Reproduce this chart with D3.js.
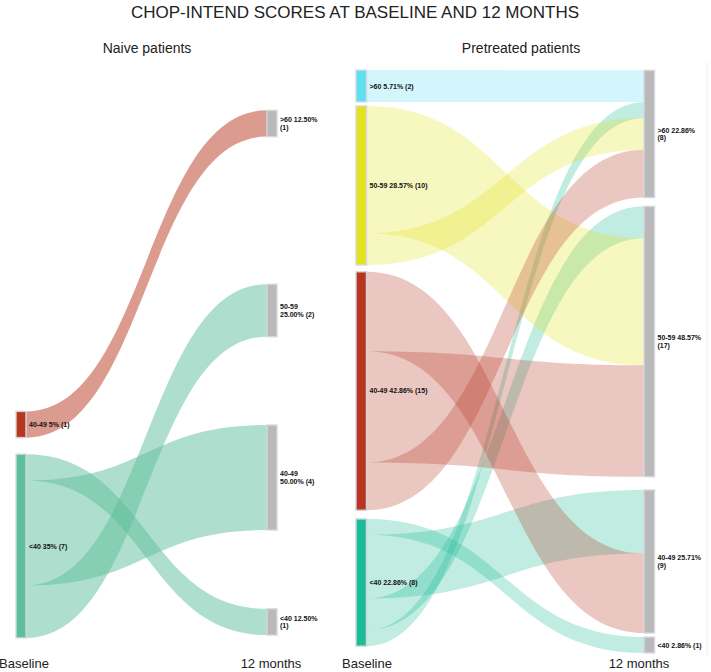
<!DOCTYPE html>
<html><head><meta charset="utf-8">
<script src="https://cdn.jsdelivr.net/npm/d3@7"></script>
<style>
html,body{margin:0;padding:0;background:#fff;}
svg{display:block;font-family:"Liberation Sans",Arial,sans-serif;}
</style></head>
<body>
<svg id="chart" width="711" height="672"></svg>
<script>
// ---------------- DATA ----------------
const title = "CHOP-INTEND SCORES AT BASELINE AND 12 MONTHS";
const columnNames = ["Baseline", "12 months"];

// Naive patients
const naiveBaseline = ["40-49", "<40"];
const naiveBaselineCounts = [1, 7];
const naiveBaselineLabels = [["40-49 5% (1)"], ["<40 35% (7)"]];
const naive12m = [">60", "50-59", "40-49", "<40"];
const naive12mCounts = [1, 2, 4, 1];
const naive12mLabels = [[">60 12.50%", "(1)"], ["50-59", "25.00% (2)"], ["40-49", "50.00% (4)"], ["<40 12.50%", "(1)"]];
const naiveLinkSource = ["40-49", "<40", "<40", "<40"];
const naiveLinkTarget = [">60", "<40", "40-49", "50-59"];
const naiveLinkValue = [1, 1, 4, 2];

// Pretreated patients
const preBaseline = [">60", "50-59", "40-49", "<40"];
const preBaselineCounts = [2, 10, 15, 8];
const preBaselineLabels = [[">60 5.71% (2)"], ["50-59 28.57% (10)"], ["40-49 42.86% (15)"], ["<40 22.86% (8)"]];
const pre12m = [">60", "50-59", "40-49", "<40"];
const pre12mCounts = [8, 17, 9, 1];
const pre12mLabels = [[">60 22.86%", "(8)"], ["50-59 48.57%", "(17)"], ["40-49 25.71%", "(9)"], ["<40 2.86% (1)"]];
const preLinkSource = [">60", "<40", "<40", "<40", "<40", "50-59", "50-59", "40-49", "40-49", "40-49"];
const preLinkTarget = [">60", "<40", "40-49", "50-59", ">60", "50-59", ">60", "40-49", "50-59", ">60"];
const preLinkValue = [2, 1, 4, 2, 1, 8, 2, 5, 7, 3];

// ---------------- LAYOUT / STYLE (not data) ----------------
const nodeColors = {">60": "#5ee0f0", "50-59": "#e2e21e", "40-49": "#b8361f", "<40": "#1cbc98"};
const naiveNodeColors = {"40-49": "#b8381f", "<40": "#5dbe9b"};
const targetColor = "#b9b9b9";

const panels = [
  {
    name: "Naive patients", titleX: 147,
    src: naiveBaseline, srcCounts: naiveBaselineCounts, srcLabels: naiveBaselineLabels,
    tgt: naive12m, tgtCounts: naive12mCounts, tgtLabels: naive12mLabels,
    ls: naiveLinkSource, lt: naiveLinkTarget, lv: naiveLinkValue,
    colors: naiveNodeColors, linkOpacity: 0.5,
    srcX: 16, tgtX: 267, nodeW: 10,
    pxPerUnit: 26.25,
    // node centres as fraction of the panel's vertical domain
    srcCenter: [0.6074, 0.8162], tgtCenter: [0.0902, 0.4115, 0.6985, 0.9467],
    colLabelX: [24, 271]
  },
  {
    name: "Pretreated patients", titleX: 521,
    src: preBaseline, srcCounts: preBaselineCounts, srcLabels: preBaselineLabels,
    tgt: pre12m, tgtCounts: pre12mCounts, tgtLabels: pre12mLabels,
    ls: preLinkSource, lt: preLinkTarget, lv: preLinkValue,
    colors: nodeColors, linkOpacity: 0.28,
    srcX: 356, tgtX: 644, nodeW: 10.5,
    pxPerUnit: 15.9,
    srcCenter: [0.0258, 0.1967, 0.5498, 0.8789], tgtCenter: [0.1082, 0.4648, 0.8428, 0.9863],
    colLabelX: [367, 639]
  }
];

const svg = d3.select("#chart");

svg.append("text").attr("x", 355).attr("y", 18).attr("text-anchor", "middle")
  .attr("font-size", 17).attr("fill", "#222").text(title);

const yPanel = d3.scaleLinear().domain([0, 1]).range([71, 653]);

panels.forEach(p => {
  const g = svg.append("g");
  const h = d3.scaleLinear().domain([0, 1]).range([0, p.pxPerUnit]);

  g.append("text").attr("x", p.titleX).attr("y", 53).attr("text-anchor", "middle")
    .attr("font-size", 14).attr("fill", "#222").text(p.name);

  const srcNodes = p.src.map((k, i) => {
    const hh = h(p.srcCounts[i]);
    const c = yPanel(p.srcCenter[i]);
    return {key: k, y0: c - hh / 2, y1: c + hh / 2, x0: p.srcX, x1: p.srcX + p.nodeW, off: 0, label: p.srcLabels[i], color: p.colors[k]};
  });
  const tgtNodes = p.tgt.map((k, i) => {
    const hh = h(p.tgtCounts[i]);
    const c = yPanel(p.tgtCenter[i]);
    return {key: k, y0: c - hh / 2, y1: c + hh / 2, x0: p.tgtX, x1: p.tgtX + p.nodeW, off: 0, label: p.tgtLabels[i], color: targetColor};
  });
  const srcBy = new Map(srcNodes.map(n => [n.key, n]));
  const tgtBy = new Map(tgtNodes.map(n => [n.key, n]));

  const links = p.lv.map((v, i) => {
    const s = srcBy.get(p.ls[i]), t = tgtBy.get(p.lt[i]);
    const w = h(v);
    const l = {s, t, sy0: s.y0 + s.off, ty0: t.y0 + t.off, w};
    s.off += w; t.off += w;
    return l;
  });

  g.append("g").selectAll("path").data(links).join("path")
    .attr("d", l => {
      const x0 = l.s.x1, x1 = l.t.x0, xm = (x0 + x1) / 2;
      const a = l.sy0, b = l.ty0, a2 = a + l.w, b2 = b + l.w;
      return `M${x0},${a}C${xm},${a} ${xm},${b} ${x1},${b}L${x1},${b2}C${xm},${b2} ${xm},${a2} ${x0},${a2}Z`;
    })
    .attr("fill", l => l.s.color)
    .attr("fill-opacity", p.linkOpacity);

  const allNodes = srcNodes.concat(tgtNodes);
  g.append("g").selectAll("rect").data(allNodes).join("rect")
    .attr("x", n => n.x0).attr("y", n => n.y0)
    .attr("width", n => n.x1 - n.x0).attr("height", n => n.y1 - n.y0)
    .attr("fill", n => n.color)
    .attr("stroke", "rgba(215,215,225,0.9)").attr("stroke-width", 1.5);

  const lab = g.append("g").selectAll("text").data(allNodes).join("text")
    .attr("x", n => n.x1 + 3)
    .attr("y", n => (n.y0 + n.y1) / 2)
    .attr("font-size", 7).attr("font-weight", "bold").attr("fill", "#111");
  lab.each(function(n) {
    const t = d3.select(this);
    const L = n.label.length;
    n.label.forEach((s, j) => {
      t.append("tspan").attr("x", n.x1 + 3)
        .attr("y", (n.y0 + n.y1) / 2 + (j - (L - 1) / 2) * 7.5 + 2.5)
        .text(s);
    });
  });

  columnNames.forEach((c, i) => {
    g.append("text").attr("x", p.colLabelX[i]).attr("y", 668).attr("text-anchor", "middle")
      .attr("font-size", 13).attr("fill", "#222").text(c);
  });
});

svg.append("line").attr("x1", 707).attr("x2", 707).attr("y1", 62).attr("y2", 656)
  .attr("stroke", "#f0f0f0").attr("stroke-width", 1);
</script>
</body></html>
